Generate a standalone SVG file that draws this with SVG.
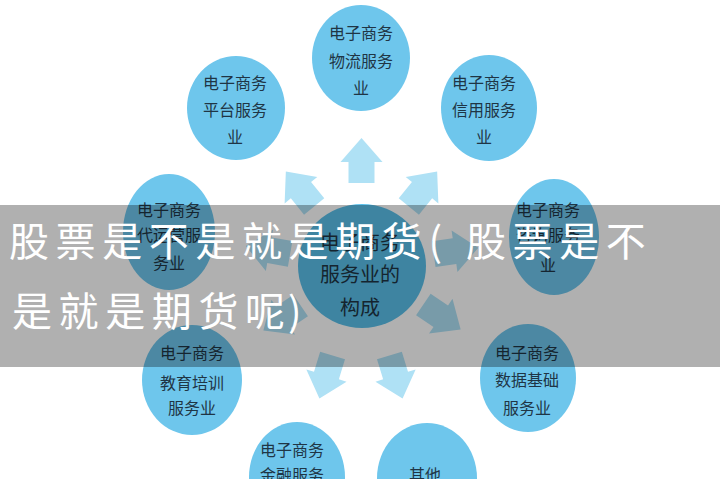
<svg xmlns="http://www.w3.org/2000/svg" width="720" height="479" viewBox="0 0 720 479">
<style>
.n{fill:#6ec6ec}
.c{fill:#5ac0ea}
.t{font-family:"Noto Sans CJK SC","Noto Sans",sans-serif;font-size:16px;fill:#1f3545;text-anchor:middle}
.tc{font-size:20px}
.a{fill:#afe1f5}
.ov{font-family:"Noto Sans CJK SC",sans-serif;font-size:40px;fill:#ffffff;font-weight:400}
</style>
<defs>
<path id="arr" d="M0,-22.5 L21,1.5 L13,1.5 L13,22.5 L-13,22.5 L-13,1.5 L-21,1.5 Z"/>
</defs>
<rect width="720" height="479" fill="#ffffff"/>
<g id="connectors">
<use href="#arr" class="a" transform="translate(361.5,160.5)"/>
<use href="#arr" class="a" transform="translate(300,189) rotate(-39)"/>
<use href="#arr" class="a" transform="translate(423,189) rotate(39)"/>
<use href="#arr" class="a" transform="translate(268,250) rotate(-80)"/>
<use href="#arr" class="a" transform="translate(456,251) rotate(82)"/>
<use href="#arr" class="a" transform="translate(282,318) rotate(-124)"/>
<use href="#arr" class="a" transform="translate(442,317) rotate(124)"/>
<use href="#arr" class="a" transform="translate(326,377) rotate(-163)"/>
<use href="#arr" class="a" transform="translate(396,377) rotate(163)"/>
</g>
<g id="node-center">
<ellipse class="c" cx="362" cy="266" rx="64" ry="62"/>
<text class="t tc" x="360" y="250">电子商务</text>
<text class="t tc" x="360" y="282">服务业的</text>
<text class="t tc" x="360" y="315">构成</text>
</g>
<g id="node-logistics">
<ellipse class="n" cx="361" cy="58" rx="49" ry="53"/>
<text class="t" x="361" y="39">电子商务</text>
<text class="t" x="361" y="67">物流服务</text>
<text class="t" x="361" y="94">业</text>
</g>
<g id="node-platform">
<ellipse class="n" cx="236" cy="108" rx="49" ry="52"/>
<text class="t" x="235" y="89">电子商务</text>
<text class="t" x="235" y="116">平台服务</text>
<text class="t" x="235" y="143">业</text>
</g>
<g id="node-credit">
<ellipse class="n" cx="489" cy="108" rx="48" ry="53"/>
<text class="t" x="484" y="89">电子商务</text>
<text class="t" x="484" y="116">信用服务</text>
<text class="t" x="484" y="143">业</text>
</g>
<g id="node-operation">
<ellipse class="n" cx="169" cy="232" rx="46" ry="58"/>
<text class="t" x="169" y="216">电子商务</text>
<text class="t" x="169" y="241">代运营服</text>
<text class="t" x="169" y="269">务业</text>
</g>
<g id="node-consulting">
<ellipse class="n" cx="554" cy="237" rx="45" ry="58"/>
<text class="t" x="548" y="216">电子商务</text>
<text class="t" x="548" y="241">咨询服务</text>
<text class="t" x="548" y="271">业</text>
</g>
<g id="node-education">
<ellipse class="n" cx="192" cy="380" rx="50" ry="55"/>
<text class="t" x="192" y="359">电子商务</text>
<text class="t" x="192" y="389">教育培训</text>
<text class="t" x="192" y="414">服务业</text>
</g>
<g id="node-data">
<ellipse class="n" cx="528" cy="378" rx="48" ry="54"/>
<text class="t" x="527" y="359">电子商务</text>
<text class="t" x="527" y="386">数据基础</text>
<text class="t" x="527" y="414">服务业</text>
</g>
<g id="node-finance">
<ellipse class="n" cx="297" cy="477" rx="48" ry="55"/>
<text class="t" x="292" y="456">电子商务</text>
<text class="t" x="292" y="481">金融服务</text>
</g>
<g id="node-other">
<ellipse class="n" cx="427" cy="478" rx="50" ry="55"/>
<text class="t" x="425" y="481">其他</text>
</g>
<rect x="0" y="205" width="720" height="162" fill="#000000" fill-opacity="0.31"/>
<text class="ov" x="9 55.6 102.2 148.8 195.4 242 288.6 335.2 381.8 428.4 466 512.6 559.2 605.8" y="256">股票是不是就是期货(股票是不</text>
<text class="ov" x="12 58.6 105.2 151.8 198.4 245 288" y="326">是就是期货呢)</text>
</svg>
